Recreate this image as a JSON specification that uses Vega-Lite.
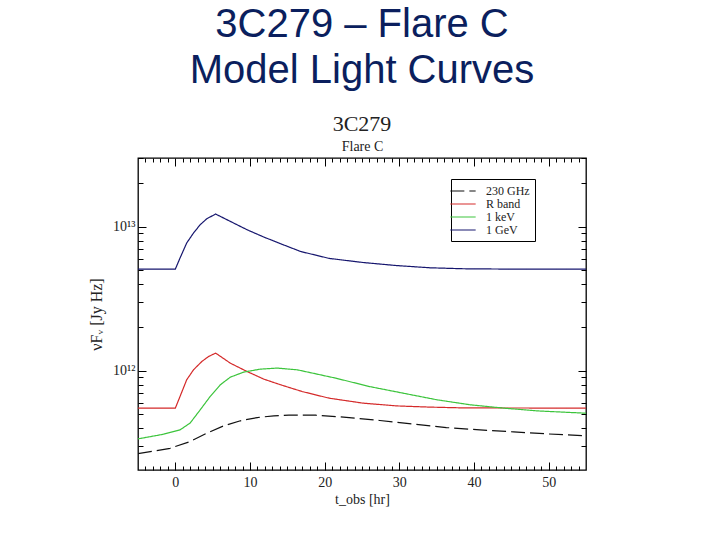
{
  "$schema": "https://vega.github.io/schema/vega-lite/v6.json",
  "width": 448,
  "height": 312,
  "autosize": "none",
  "padding": {"left": 138, "top": 158, "right": 134, "bottom": 70},
  "background": "white",
  "title": {
    "text": ["3C279 – Flare C", "Model Light Curves"],
    "subtitle": "3C279",
    "anchor": "middle",
    "font": "Liberation Sans",
    "fontSize": 40,
    "fontWeight": "normal",
    "lineHeight": 46,
    "color": "#0b1f5e",
    "subtitleFont": "Liberation Serif",
    "subtitleFontSize": 22,
    "subtitleColor": "#222222",
    "subtitlePadding": 23,
    "offset": 5
  },
  "config": {
    "view": {"stroke": "black", "strokeWidth": 1.3},
    "axis": {
      "grid": false,
      "domain": false,
      "tickColor": "black",
      "labelFont": "Liberation Serif",
      "labelFontSize": 14,
      "labelColor": "#222222",
      "titleFont": "Liberation Serif",
      "titleFontSize": 14,
      "titleFontWeight": "normal",
      "titleColor": "#222222"
    }
  },
  "data": {
    "values": [
      {"t": -5, "v": 5.08e12, "band": "1 GeV"},
      {"t": 0, "v": 5.08e12, "band": "1 GeV"},
      {"t": 0.63, "v": 6.07e12, "band": "1 GeV"},
      {"t": 1.52, "v": 7.71e12, "band": "1 GeV"},
      {"t": 2.43, "v": 9.04e12, "band": "1 GeV"},
      {"t": 3.33, "v": 1.033e13, "band": "1 GeV"},
      {"t": 4.22, "v": 1.137e13, "band": "1 GeV"},
      {"t": 5.4, "v": 1.225e13, "band": "1 GeV"},
      {"t": 7.37, "v": 1.089e13, "band": "1 GeV"},
      {"t": 9.61, "v": 9.53e12, "band": "1 GeV"},
      {"t": 11.86, "v": 8.48e12, "band": "1 GeV"},
      {"t": 14.1, "v": 7.62e12, "band": "1 GeV"},
      {"t": 16.8, "v": 6.73e12, "band": "1 GeV"},
      {"t": 20.6, "v": 6.03e12, "band": "1 GeV"},
      {"t": 25.1, "v": 5.65e12, "band": "1 GeV"},
      {"t": 29.6, "v": 5.38e12, "band": "1 GeV"},
      {"t": 34.1, "v": 5.19e12, "band": "1 GeV"},
      {"t": 38.6, "v": 5.11e12, "band": "1 GeV"},
      {"t": 45, "v": 5.08e12, "band": "1 GeV"},
      {"t": 55, "v": 5.08e12, "band": "1 GeV"},

      {"t": -5, "v": 5.51e11, "band": "R band"},
      {"t": 0, "v": 5.51e11, "band": "R band"},
      {"t": 0.63, "v": 6.64e11, "band": "R band"},
      {"t": 1.52, "v": 8.66e11, "band": "R band"},
      {"t": 2.43, "v": 1.016e12, "band": "R band"},
      {"t": 3.55, "v": 1.161e12, "band": "R band"},
      {"t": 4.45, "v": 1.257e12, "band": "R band"},
      {"t": 5.4, "v": 1.327e12, "band": "R band"},
      {"t": 7.37, "v": 1.13e12, "band": "R band"},
      {"t": 9.61, "v": 9.89e11, "band": "R band"},
      {"t": 11.86, "v": 8.75e11, "band": "R band"},
      {"t": 14.1, "v": 8.0e11, "band": "R band"},
      {"t": 17.0, "v": 7.18e11, "band": "R band"},
      {"t": 20.6, "v": 6.46e11, "band": "R band"},
      {"t": 25.1, "v": 5.97e11, "band": "R band"},
      {"t": 29.6, "v": 5.71e11, "band": "R band"},
      {"t": 34.1, "v": 5.6e11, "band": "R band"},
      {"t": 38.6, "v": 5.53e11, "band": "R band"},
      {"t": 55, "v": 5.51e11, "band": "R band"},

      {"t": -5, "v": 3.37e11, "band": "1 keV"},
      {"t": -1.6, "v": 3.63e11, "band": "1 keV"},
      {"t": 0.63, "v": 3.89e11, "band": "1 keV"},
      {"t": 1.98, "v": 4.34e11, "band": "1 keV"},
      {"t": 3.33, "v": 5.36e11, "band": "1 keV"},
      {"t": 4.67, "v": 6.64e11, "band": "1 keV"},
      {"t": 6.02, "v": 8.0e11, "band": "1 keV"},
      {"t": 7.37, "v": 9.04e11, "band": "1 keV"},
      {"t": 9.16, "v": 9.8e11, "band": "1 keV"},
      {"t": 11.4, "v": 1.028e12, "band": "1 keV"},
      {"t": 13.65, "v": 1.045e12, "band": "1 keV"},
      {"t": 16.35, "v": 1.016e12, "band": "1 keV"},
      {"t": 21.5, "v": 8.89e11, "band": "1 keV"},
      {"t": 26.0, "v": 7.78e11, "band": "1 keV"},
      {"t": 30.5, "v": 7.0e11, "band": "1 keV"},
      {"t": 35.0, "v": 6.3e11, "band": "1 keV"},
      {"t": 39.5, "v": 5.81e11, "band": "1 keV"},
      {"t": 44.0, "v": 5.51e11, "band": "1 keV"},
      {"t": 48.5, "v": 5.27e11, "band": "1 keV"},
      {"t": 55, "v": 5.08e11, "band": "1 keV"},

      {"t": -5, "v": 2.66e11, "band": "230 GHz"},
      {"t": -0.7, "v": 2.9e11, "band": "230 GHz"},
      {"t": 1.98, "v": 3.23e11, "band": "230 GHz"},
      {"t": 4.22, "v": 3.69e11, "band": "230 GHz"},
      {"t": 6.47, "v": 4.15e11, "band": "230 GHz"},
      {"t": 8.72, "v": 4.5e11, "band": "230 GHz"},
      {"t": 10.96, "v": 4.74e11, "band": "230 GHz"},
      {"t": 13.2, "v": 4.87e11, "band": "230 GHz"},
      {"t": 15.2, "v": 4.92e11, "band": "230 GHz"},
      {"t": 18.8, "v": 4.92e11, "band": "230 GHz"},
      {"t": 22.9, "v": 4.76e11, "band": "230 GHz"},
      {"t": 27.4, "v": 4.52e11, "band": "230 GHz"},
      {"t": 31.9, "v": 4.27e11, "band": "230 GHz"},
      {"t": 36.3, "v": 4.04e11, "band": "230 GHz"},
      {"t": 40.8, "v": 3.89e11, "band": "230 GHz"},
      {"t": 45.3, "v": 3.77e11, "band": "230 GHz"},
      {"t": 49.8, "v": 3.65e11, "band": "230 GHz"},
      {"t": 55, "v": 3.54e11, "band": "230 GHz"}
    ]
  },
  "resolve": {"axis": {"x": "independent", "y": "independent"}},
  "layer": [
    {
      "mark": {"type": "line", "strokeWidth": 1.2, "clip": true},
      "encoding": {
        "x": {
          "field": "t", "type": "quantitative",
          "scale": {"domain": [-5, 55], "nice": false, "zero": false},
          "axis": {"orient": "bottom", "values": [0, 10, 20, 30, 40, 50], "tickSize": -8, "labelPadding": 13, "title": "t_obs [hr]", "titlePadding": 3}
        },
        "y": {
          "field": "v", "type": "quantitative",
          "scale": {"type": "log", "domain": [2.05e11, 3.0e13], "nice": false},
          "axis": {"orient": "left", "values": [1e12, 1e13], "tickSize": -8, "labelPadding": 11, "labelExpr": "datum.value >= 5e12 ? '10¹³' : '10¹²'", "title": "νFᵥ [Jy Hz]", "titleFontSize": 16, "titlePadding": 8}
        },
        "color": {
          "field": "band", "type": "nominal",
          "scale": {"domain": ["230 GHz", "R band", "1 keV", "1 GeV"], "range": ["#111111", "#d42a2a", "#3cc43c", "#16166e"]},
          "legend": {
            "orient": "none", "legendX": 313, "legendY": 21, "title": null,
            "strokeColor": "black", "fillColor": "white", "padding": 5,
            "labelFont": "Liberation Serif", "labelFontSize": 12, "labelColor": "#222222",
            "symbolType": "M-2,0H2", "symbolSize": 160, "symbolStrokeWidth": 1.2, "rowPadding": -1, "labelOffset": 16
          }
        },
        "strokeDash": {
          "field": "band", "type": "nominal",
          "scale": {"domain": ["230 GHz", "R band", "1 keV", "1 GeV"], "range": [[14, 5], [1, 0], [1, 0], [1, 0]]},
          "legend": null
        }
      }
    },
    {
      "mark": {"type": "line", "opacity": 0},
      "encoding": {
        "x": {"field": "t", "type": "quantitative", "axis": {"orient": "bottom", "values": [-4, -3, -2, -1, 1, 2, 3, 4, 5, 6, 7, 8, 9, 11, 12, 13, 14, 15, 16, 17, 18, 19, 21, 22, 23, 24, 25, 26, 27, 28, 29, 31, 32, 33, 34, 35, 36, 37, 38, 39, 41, 42, 43, 44, 45, 46, 47, 48, 49, 51, 52, 53, 54], "tickSize": -4, "labels": false, "title": null}},
        "y": {"field": "v", "type": "quantitative", "axis": {"orient": "left", "values": [3e11, 4e11, 5e11, 6e11, 7e11, 8e11, 9e11, 2e12, 3e12, 4e12, 5e12, 6e12, 7e12, 8e12, 9e12, 2e13, 3e13], "tickSize": -5, "labels": false, "title": null}}
      }
    },
    {
      "mark": {"type": "line", "opacity": 0},
      "encoding": {
        "x": {"field": "t", "type": "quantitative", "axis": {"orient": "top", "values": [0, 10, 20, 30, 40, 50], "tickSize": -8, "labels": false, "title": "Flare C", "titleFontSize": 14, "titlePadding": 4}},
        "y": {"field": "v", "type": "quantitative", "axis": {"orient": "right", "values": [1e12, 1e13], "tickSize": -8, "labels": false, "title": null}}
      }
    },
    {
      "mark": {"type": "line", "opacity": 0},
      "encoding": {
        "x": {"field": "t", "type": "quantitative", "axis": {"orient": "top", "values": [-4, -3, -2, -1, 1, 2, 3, 4, 5, 6, 7, 8, 9, 11, 12, 13, 14, 15, 16, 17, 18, 19, 21, 22, 23, 24, 25, 26, 27, 28, 29, 31, 32, 33, 34, 35, 36, 37, 38, 39, 41, 42, 43, 44, 45, 46, 47, 48, 49, 51, 52, 53, 54], "tickSize": -4, "labels": false, "title": null}},
        "y": {"field": "v", "type": "quantitative", "axis": {"orient": "right", "values": [3e11, 4e11, 5e11, 6e11, 7e11, 8e11, 9e11, 2e12, 3e12, 4e12, 5e12, 6e12, 7e12, 8e12, 9e12, 2e13, 3e13], "tickSize": -5, "labels": false, "title": null}}
      }
    }
  ]
}
